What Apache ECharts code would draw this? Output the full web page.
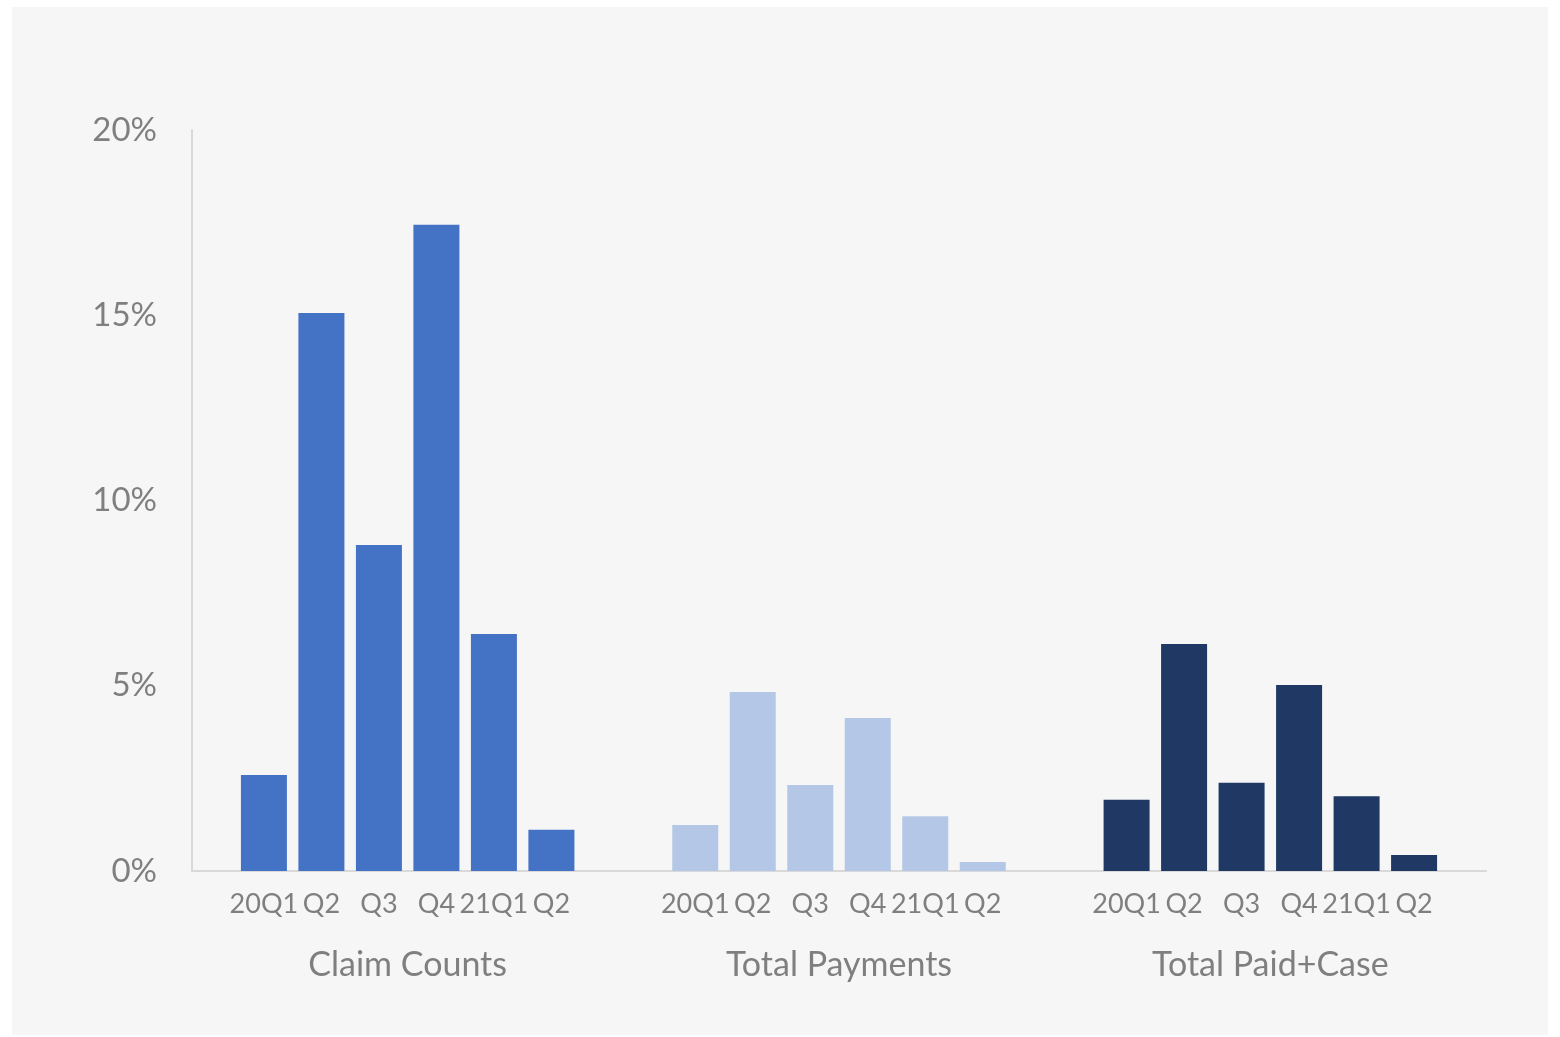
<!DOCTYPE html>
<html>
<head>
<meta charset="utf-8">
<script src="https://cdn.jsdelivr.net/npm/echarts@6/dist/echarts.min.js"></script>
<style>
html,body{margin:0;padding:0;background:#ffffff;width:1560px;height:1037px;overflow:hidden;}
#panel{position:absolute;left:12px;top:7px;width:1536px;height:1028px;background:#f6f6f6;}
#chart{position:absolute;left:0;top:0;width:1560px;height:1037px;}
</style>
</head>
<body>
<div id="panel"></div>
<div id="chart"></div>
<script>
const categories = ['Claim Counts', 'Total Payments', 'Total Paid+Case'];
const quarters = ['20Q1', 'Q2', 'Q3', 'Q4', '21Q1', 'Q2'];
const claimCounts = [2.59, 15.06, 8.80, 17.44, 6.40, 1.11];
const totalPayments = [1.24, 4.83, 2.32, 4.13, 1.48, 0.24];
const totalPaidCase = [1.92, 6.13, 2.38, 5.02, 2.02, 0.43];
const yTicks = [0, 5, 10, 15, 20];
const groupColors = ['#4472C4', '#B4C7E7', '#203864'];

const groups = [claimCounts, totalPayments, totalPaidCase];
const FONT = 'Lato';
const TXT = '#7f7f7f';

const series = quarters.map((q, qi) => ({
  type: 'bar',
  name: q,
  barWidth: 46,
  barGap: '25%',
  data: groups.map((g, gi) => ({ value: g[qi], itemStyle: { color: groupColors[gi] } })),
  label: {
    show: true,
    position: 'bottom',
    distance: 20,
    formatter: () => q,
    color: TXT,
    fontFamily: FONT,
    fontSize: 27
  },
  silent: true
}));

const chart = echarts.init(document.getElementById('chart'), null, { renderer: 'canvas' });
chart.setOption({
  backgroundColor: 'transparent',
  animation: false,
  grid: { left: 192, right: 74, top: 130, bottom: 166, containLabel: false },
  xAxis: {
    type: 'category',
    data: categories,
    axisLine: { lineStyle: { color: '#d9d9d9', width: 2 } },
    axisTick: { show: false },
    axisLabel: { color: TXT, fontFamily: FONT, fontSize: 34, margin: 77 }
  },
  yAxis: {
    type: 'value',
    min: yTicks[0],
    max: yTicks[yTicks.length - 1],
    interval: 5,
    axisLine: { show: true, lineStyle: { color: '#d9d9d9', width: 2 } },
    axisTick: { show: false },
    splitLine: { show: false },
    axisLabel: { color: TXT, fontFamily: FONT, fontSize: 33, margin: 35, formatter: '{value}%' }
  },
  series: series
});
</script>
</body>
</html>
